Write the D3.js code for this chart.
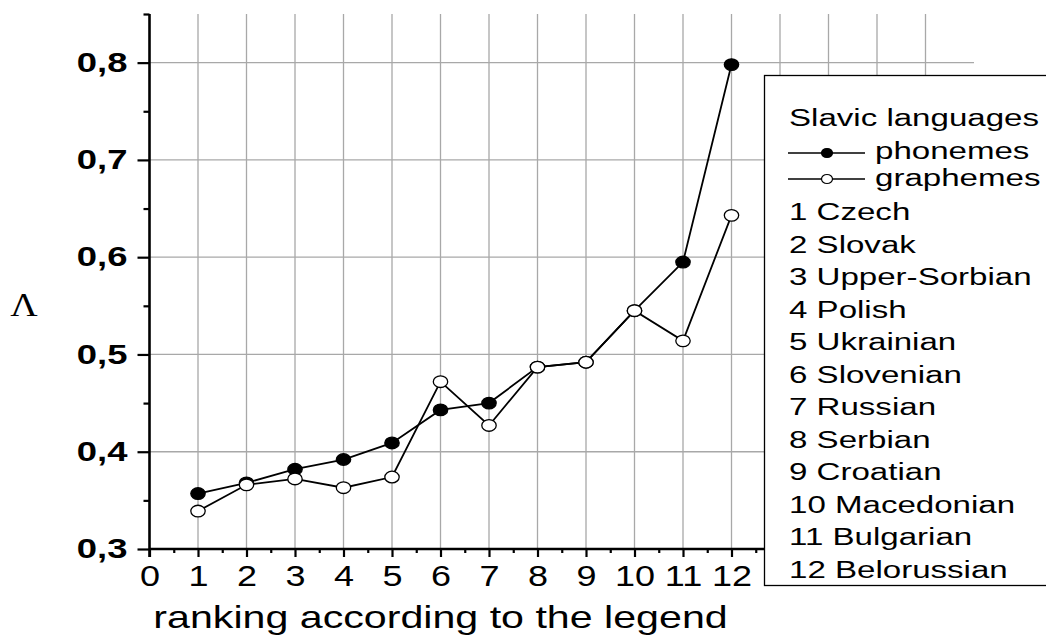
<!DOCTYPE html>
<html>
<head>
<meta charset="utf-8">
<script src="https://cdn.jsdelivr.net/npm/d3@7"></script>
<style>
  html, body { margin: 0; padding: 0; background: #fff; }
  svg { display: block; }
  text { font-family: "Liberation Sans", Arial, sans-serif; fill: #000; }
</style>
</head>
<body>
<svg id="chart" width="1046" height="639"></svg>
<script>
// Ranking positions 1..12 (see legend for language names)
const ranks = [1, 2, 3, 4, 5, 6, 7, 8, 9, 10, 11, 12];
const languages = ["Czech", "Slovak", "Upper-Sorbian", "Polish", "Ukrainian", "Slovenian",
                   "Russian", "Serbian", "Croatian", "Macedonian", "Bulgarian", "Belorussian"];
// Λ values per language
const phonemes  = [0.357, 0.368, 0.382, 0.392, 0.409, 0.443, 0.450, 0.487, 0.492, 0.545, 0.595, 0.798];
const graphemes = [0.339, 0.366, 0.372, 0.363, 0.374, 0.472, 0.427, 0.487, 0.492, 0.545, 0.514, 0.643];
// Axis ticks
const xTicks = d3.range(0, 17);
const xTickLabels = ["0", "1", "2", "3", "4", "5", "6", "7", "8", "9", "10", "11", "12"];
const xMinorTicks = d3.range(0.5, 17, 1);
const yTicks = [0.3, 0.4, 0.5, 0.6, 0.7, 0.8];
const yMinorTicks = [0.35, 0.45, 0.55, 0.65, 0.75, 0.85];
const xGrid = d3.range(1, 17);
const yGrid = [0.4, 0.5, 0.6, 0.7, 0.8];

const SX = 1.35; // horizontal text stretch

const svg = d3.select("#chart");
const x = d3.scaleLinear().domain([0, 17]).range([149.5, 974]);
const y = d3.scaleLinear().domain([0.3, 0.85]).range([549, 14]);

// grid
const grid = svg.append("g").attr("stroke", "#a8a8a8").attr("stroke-width", 1.3);
grid.selectAll("line.v").data(xGrid).join("line").attr("class", "v")
  .attr("x1", d => x(d)).attr("x2", d => x(d))
  .attr("y1", y(0.3)).attr("y2", y(0.85));
grid.selectAll("line.h").data(yGrid).join("line").attr("class", "h")
  .attr("x1", x(0)).attr("x2", x(17))
  .attr("y1", d => y(d)).attr("y2", d => y(d));

// axes
const fmt = d => d3.format(".1f")(d).replace(".", ",");
const yAxis = svg.append("g").attr("transform", `translate(${x(0)},0)`)
  .call(d3.axisLeft(y).tickValues(yTicks).tickFormat(fmt).tickSize(12).tickPadding(10).tickSizeOuter(0));
const yMinor = svg.append("g").attr("transform", `translate(${x(0)},0)`)
  .call(d3.axisLeft(y).tickValues(yMinorTicks).tickFormat("").tickSize(6).tickSizeOuter(0));
const xAxis = svg.append("g").attr("transform", `translate(0,${y(0.3)})`)
  .call(d3.axisBottom(x).tickValues(xTicks)
    .tickFormat(d => xTickLabels[d] !== undefined ? xTickLabels[d] : "")
    .tickSize(8).tickPadding(8).tickSizeOuter(0));
const xMinor = svg.append("g").attr("transform", `translate(0,${y(0.3)})`)
  .call(d3.axisBottom(x).tickValues(xMinorTicks).tickFormat("").tickSize(4).tickSizeOuter(0));

[yAxis, yMinor, xAxis, xMinor].forEach(g => {
  g.select(".domain").attr("stroke", "#000").attr("stroke-width", 2.6);
  g.selectAll(".tick line").attr("stroke", "#000").attr("stroke-width", 2.2);
});
yMinor.select(".domain").remove();
xMinor.select(".domain").remove();
xAxis.select(".domain").attr("d", `M${x(0)},0H${x(17)}`);
yAxis.select(".domain").attr("d", `M0,${y(0.85)}V${y(0.3) + 8}`);
xAxis.selectAll(".tick").filter(d => xTickLabels[d] === undefined).select("text").remove();

yAxis.selectAll(".tick text")
  .attr("font-size", 27).attr("font-weight", "bold")
  .attr("font-family", "'Liberation Sans', Arial, sans-serif")
  .attr("x", -22 / SX).attr("transform", `scale(${SX},1)`);
xAxis.selectAll(".tick text")
  .attr("font-size", 30)
  .attr("font-family", "'Liberation Sans', Arial, sans-serif")
  .attr("transform", `scale(1.2,1)`);

// axis titles
svg.append("text")
  .attr("transform", `translate(${(x(0) + x(12)) / 2},628) scale(${SX},1)`)
  .attr("text-anchor", "middle").attr("font-size", 30.5)
  .text("ranking according to the legend");
svg.append("text")
  .attr("transform", `translate(24,316) scale(1.15,1)`)
  .attr("text-anchor", "middle").attr("font-size", 33)
  .style("font-family", "'Liberation Serif', 'Times New Roman', serif")
  .text("Λ");

// series
const line = d3.line().x((d, i) => x(ranks[i])).y(d => y(d));
const RX = 7.2, RY = 5.8;
function drawSeries(values, fill) {
  svg.append("path").datum(values).attr("d", line)
    .attr("fill", "none").attr("stroke", "#000").attr("stroke-width", 1.8);
  svg.append("g").selectAll("ellipse").data(values).join("ellipse")
    .attr("cx", (d, i) => x(ranks[i])).attr("cy", d => y(d))
    .attr("rx", RX).attr("ry", RY)
    .attr("fill", fill).attr("stroke", "#000").attr("stroke-width", 1.3);
}
drawSeries(phonemes, "#000");
drawSeries(graphemes, "#fff");

// legend
const lg = svg.append("g");
lg.append("rect").attr("x", 764.5).attr("y", 75.5).attr("width", 320).attr("height", 510)
  .attr("fill", "#fff").attr("stroke", "#000").attr("stroke-width", 1.3);
const lx = 789;
function ltext(str, tx, ty) {
  lg.append("text").attr("transform", `translate(${tx},${ty}) scale(${SX},1)`)
    .attr("font-size", 24.5).text(str);
}
ltext("Slavic languages", lx, 126);
const legendSeries = [
  { name: "phonemes", fill: "#000", ly: 153, ty: 159 },
  { name: "graphemes", fill: "#fff", ly: 179, ty: 186 }
];
legendSeries.forEach(s => {
  lg.append("line").attr("x1", 788).attr("x2", 865).attr("y1", s.ly).attr("y2", s.ly)
    .attr("stroke", "#000").attr("stroke-width", 1.5);
  lg.append("ellipse").attr("cx", 827).attr("cy", s.ly).attr("rx", 5.5).attr("ry", 4.5)
    .attr("fill", s.fill).attr("stroke", "#000").attr("stroke-width", 1.2);
  ltext(s.name, 875, s.ty);
});
const itemY = d3.scaleLinear().domain([1, 12]).range([220, 578]);
languages.forEach((name, i) => ltext(`${ranks[i]} ${name}`, lx, itemY(ranks[i])));
</script>
</body>
</html>
